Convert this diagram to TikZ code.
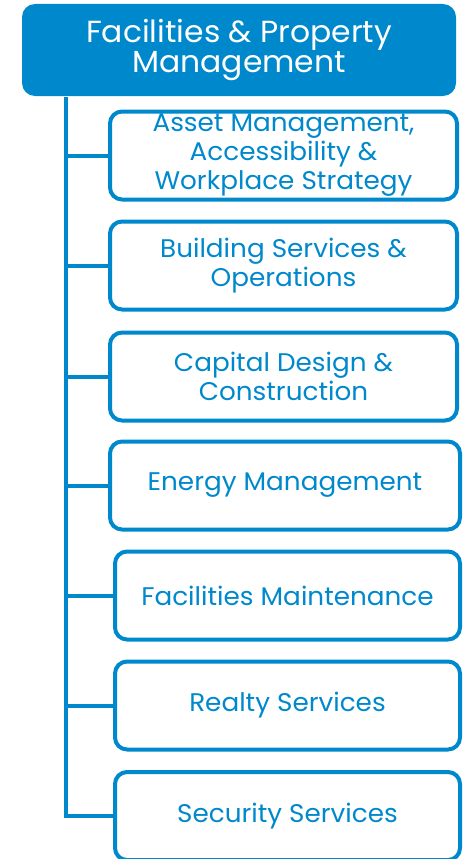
\documentclass[tikz,border=0pt]{standalone}
\usepackage{fontspec}
\setmainfont{Poppins}[FakeStretch=1.03]
\definecolor{fpmblue}{RGB}{0,136,204}
\tikzset{
  headbox/.style={rectangle, rounded corners=13pt, fill=fpmblue, text=white,
    minimum width=434pt, minimum height=92pt, align=center, inner sep=0pt,
    font=\fontsize{30.5}{30.5}\selectfont},
  unitbox/.style={rectangle, rounded corners=12pt, draw=fpmblue, line width=4pt,
    text=fpmblue, minimum height=88pt, align=center, inner sep=0pt,
    font=\fontsize{25.5}{29}\selectfont},
  branch/.style={draw=fpmblue, line width=4pt}
}
\begin{document}
\begin{tikzpicture}[x=1pt, y=-1pt]
    \useasboundingbox (0,0) rectangle (467,859);

    % Head
    \node[headbox] (fpm) at (239,50) {Facilities \& Property\\Management};

    % Units
    \node[unitbox, minimum width=347pt] (asset) at (283.5,155.5) {Asset Management,\\Accessibility \&\\Workplace Strategy};
    \node[unitbox, minimum width=347pt] (bldg) at (283.5,265.5) {Building Services \&\\Operations};
    \node[unitbox, minimum width=347pt] (capital) at (283.5,376.5) {Capital Design \&\\Construction};
    \node[unitbox, minimum width=350pt] (energy) at (285,485.5) {Energy Management};
    \node[unitbox, minimum width=345pt] (maint) at (287.5,595.5) {Facilities Maintenance};
    \node[unitbox, minimum width=345pt] (realty) at (287.5,705.5) {Realty Services};
    \node[unitbox, minimum width=345pt] (security) at (287.5,816) {Security Services};

    % Trunk
    \coordinate (trunk) at (66,97);
    \draw[branch] (trunk) |- (security.west);

    % Branches
    \foreach \u in {asset, bldg, capital, energy, maint, realty}
        \draw[branch] (trunk |- \u.west) -- (\u.west);
\end{tikzpicture}
\end{document}
